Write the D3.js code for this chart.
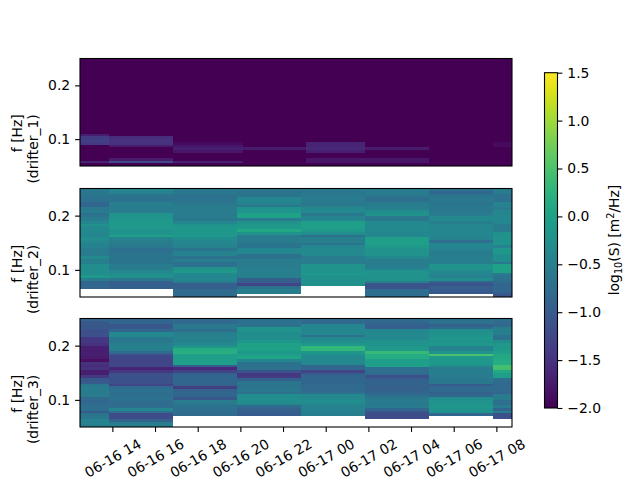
<!DOCTYPE html>
<html><head><meta charset="utf-8">
<script src="https://cdnjs.cloudflare.com/ajax/libs/d3/7.8.5/d3.min.js"></script>
<style>
html,body{margin:0;padding:0;background:#fff}
svg{display:block}
text{font-family:"DejaVu Sans",sans-serif;font-size:13.9px;fill:#000}
</style></head><body>
<svg id="c" width="640" height="480"></svg>
<script>
const xTickTimes = ["2023-06-16T14:00","2023-06-16T16:00","2023-06-16T18:00","2023-06-16T20:00","2023-06-16T22:00","2023-06-17T00:00","2023-06-17T02:00","2023-06-17T04:00","2023-06-17T06:00","2023-06-17T08:00"];
const xTickLabels = ["06-16 14","06-16 16","06-16 18","06-16 20","06-16 22","06-17 00","06-17 02","06-17 04","06-17 06","06-17 08"];
const timeStart = "2023-06-16T12:29", timeEnd = "2023-06-17T08:44";
const edges1 = ["2023-06-16T12:29","2023-06-16T13:51","2023-06-16T16:51","2023-06-16T20:07","2023-06-16T23:05","2023-06-17T01:51","2023-06-17T04:51","2023-06-17T07:51","2023-06-17T08:44"];
const edges2 = ["2023-06-16T12:29","2023-06-16T13:51","2023-06-16T16:51","2023-06-16T19:51","2023-06-16T22:51","2023-06-17T01:51","2023-06-17T04:51","2023-06-17T07:51","2023-06-17T08:44"];
const edges3 = edges2;
const freqTop = 0.25, freqBottom = 0.05, freqStep = 0.005;
const yTicks = [0.1, 0.2];
const cbarTicks = [-2,-1.5,-1,-0.5,0,0.5,1,1.5];
const n = null;

// log10(S), one array per time column, each from the highest frequency bin to the lowest
const drifter1 = [
[-2.5,-2.5,-2.5,-2.5,-2.5,-2.5,-2.5,-2.5,-2.5,-2.5,-2.5,-2.5,-2.5,-2.5,-2.5,-2.5,-2.5,-2.5,-2.5,-2.5,-2.5,-2.5,-2.5,-2.5,-2.5,-2.5,-2.5,-2.5,-1.7,-1.4,-1.35,-1.4,-2.5,-2.5,-2.5,-2.5,-2.5,-2.5,-1.65,-2.5],
[-2.5,-2.5,-2.5,-2.5,-2.5,-2.5,-2.5,-2.5,-2.5,-2.5,-2.5,-2.5,-2.5,-2.5,-2.5,-2.5,-2.5,-2.5,-2.5,-2.5,-2.5,-2.5,-2.5,-2.5,-2.5,-2.5,-2.5,-2.5,-2.5,-1.55,-1.5,-1.5,-1.75,-2.5,-2.5,-2.5,-2.5,-1.75,-1.2,-2.5],
[-2.5,-2.5,-2.5,-2.5,-2.5,-2.5,-2.5,-2.5,-2.5,-2.5,-2.5,-2.5,-2.5,-2.5,-2.5,-2.5,-2.5,-2.5,-2.5,-2.5,-2.5,-2.5,-2.5,-2.5,-2.5,-2.5,-2.5,-2.5,-2.5,-2.5,-2.5,-1.9,-1.8,-1.7,-1.8,-2.5,-2.5,-2.5,-1.7,-2.5],
[-2.5,-2.5,-2.5,-2.5,-2.5,-2.5,-2.5,-2.5,-2.5,-2.5,-2.5,-2.5,-2.5,-2.5,-2.5,-2.5,-2.5,-2.5,-2.5,-2.5,-2.5,-2.5,-2.5,-2.5,-2.5,-2.5,-2.5,-2.5,-2.5,-2.5,-2.5,-2.5,-2.5,-1.75,-2.5,-2.5,-2.5,-2.5,-2.5,-2.5],
[-2.5,-2.5,-2.5,-2.5,-2.5,-2.5,-2.5,-2.5,-2.5,-2.5,-2.5,-2.5,-2.5,-2.5,-2.5,-2.5,-2.5,-2.5,-2.5,-2.5,-2.5,-2.5,-2.5,-2.5,-2.5,-2.5,-2.5,-2.5,-2.5,-2.5,-2.5,-1.65,-1.65,-1.6,-1.7,-2.5,-2.5,-1.8,-1.8,-2.5],
[-2.5,-2.5,-2.5,-2.5,-2.5,-2.5,-2.5,-2.5,-2.5,-2.5,-2.5,-2.5,-2.5,-2.5,-2.5,-2.5,-2.5,-2.5,-2.5,-2.5,-2.5,-2.5,-2.5,-2.5,-2.5,-2.5,-2.5,-2.5,-2.5,-2.5,-2.5,-2.5,-2.5,-1.75,-2.5,-2.5,-2.5,-1.8,-1.8,-2.5],
[-2.5,-2.5,-2.5,-2.5,-2.5,-2.5,-2.5,-2.5,-2.5,-2.5,-2.5,-2.5,-2.5,-2.5,-2.5,-2.5,-2.5,-2.5,-2.5,-2.5,-2.5,-2.5,-2.5,-2.5,-2.5,-2.5,-2.5,-2.5,-2.5,-2.5,-2.5,-2.5,-2.5,-2.5,-2.5,-2.5,-2.5,-2.5,-2.5,-2.5],
[-2.5,-2.5,-2.5,-2.5,-2.5,-2.5,-2.5,-2.5,-2.5,-2.5,-2.5,-2.5,-2.5,-2.5,-2.5,-2.5,-2.5,-2.5,-2.5,-2.5,-2.5,-2.5,-2.5,-2.5,-2.5,-2.5,-2.5,-2.5,-2.5,-2.5,-2.5,-1.9,-1.9,-2.5,-2.5,-2.5,-2.5,-2.5,-2.5,-2.5]
];
const drifter2 = [
[-0.6,-0.6,-0.65,-0.7,-0.7,-0.85,-0.85,-0.6,-0.55,-0.7,-0.6,-0.55,-0.4,-0.25,-0.35,-0.35,-0.4,-0.4,-0.3,-0.35,-0.45,-0.45,-0.55,-0.55,-0.55,-0.35,-0.5,-0.5,-0.3,-0.3,-0.3,-0.3,-0.1,-0.55,-0.85,-0.85,-0.85,n,n,n],
[-0.35,-0.45,-0.65,-0.7,-0.7,-0.5,-0.5,-0.55,-0.55,-0.2,-0.2,-0.15,-0.1,-0.1,-0.1,-0.2,-0.2,0,-0.45,-0.5,-0.55,-0.6,-0.75,-0.7,-0.65,-0.65,-0.65,-0.65,-0.55,-0.55,-0.35,-0.3,-0.25,-0.6,-0.95,-0.95,-0.95,n,n,n],
[-0.6,-0.6,-0.7,-0.7,-0.7,-0.6,-0.55,-0.55,-0.55,-0.55,-0.55,-0.6,-0.4,-0.2,-0.15,-0.15,-0.15,-0.15,-0.3,-0.4,-0.4,-0.45,-0.65,-0.45,-0.45,-0.7,-0.5,-0.75,-0.7,-0.25,-0.1,-0.35,-0.4,-0.4,-0.55,-0.95,-0.95,-0.8,-0.8,-0.8],
[-0.65,-0.65,-0.65,-0.4,-0.4,-0.45,-0.6,-0.2,-0.2,0,0,-0.55,-0.25,-0.15,-0.1,0.1,-0.2,-0.55,-0.55,-0.55,-0.65,-0.65,-0.4,-0.4,-0.7,-0.7,-0.55,-0.55,-0.55,-0.5,-0.5,-0.5,-0.5,-0.95,-0.95,-1.3,-0.7,-0.5,-0.55,n],
[-0.6,-0.6,-0.6,-0.55,-0.55,-0.6,-0.55,-0.35,-0.35,-0.6,-0.45,-0.4,-0.05,-0.05,-0.05,-0.1,-0.3,-0.7,-0.5,-0.5,-0.65,-0.4,-0.35,-0.35,-0.4,-0.55,-0.55,-0.55,-0.2,-0.2,-0.2,-0.15,-0.25,-0.25,-0.25,-0.25,n,n,n,n],
[-0.55,-0.55,-0.6,-0.75,-0.75,-0.55,-0.55,-0.5,-0.3,-0.25,-0.6,-0.6,-0.35,-0.35,-0.35,-0.35,-0.4,-0.4,-0.05,-0.05,-0.05,-0.1,-0.2,-0.2,-0.25,-0.35,-0.55,-0.55,-0.55,-0.45,-0.2,-0.2,-0.2,-0.25,-0.5,-1.1,-1.1,-0.75,-0.75,-0.75],
[-0.7,-0.85,-0.65,-0.6,-0.6,-0.65,-0.6,-0.6,-0.6,-0.55,-0.35,-0.35,-0.5,-0.4,-0.4,-0.4,-0.4,-0.4,-0.45,-0.75,-0.4,-0.4,-0.45,-0.55,-0.55,-0.5,-0.5,-0.5,-0.2,-0.2,-0.35,-0.4,-0.45,-0.3,-0.9,-1.1,-0.95,-1.0,-1.05,n],
[-0.55,-0.55,-0.7,-0.7,-0.7,-0.45,-0.45,-0.55,-0.4,-0.4,-0.4,-0.4,-0.4,-0.55,-0.55,-0.55,-0.25,-0.25,-0.2,-0.2,-0.2,-0.45,-0.15,-0.15,-0.3,-0.3,-0.3,-0.6,0,0,0,-0.55,-0.65,-0.7,-0.8,-0.85,-0.85,-0.85,-0.95,-1.1]
];
const drifter3 = [
[-0.85,-1.05,-1.05,-1.05,-1.15,-1.15,-1.15,-1.45,-1.45,-1.5,-1.7,-1.7,-1.7,-1.7,-1.75,-1.85,-1.5,-1.55,-1.5,-1.7,-1.7,-1.4,-1.05,-1.0,-0.6,-0.55,-0.55,-0.55,-0.55,-0.8,-0.85,-0.8,-0.75,-0.75,-1.0,-0.65,-0.6,-0.45,-0.45,-0.5],
[-0.85,-0.85,-1.05,-1.05,-0.85,-0.35,-0.35,-0.6,-0.6,-0.5,-0.45,-0.5,-0.8,-1.2,-1.25,-1.3,-1.3,-1.25,-1.65,-1.45,-1.15,-1.1,-1.15,-1.15,-1.3,-0.8,-0.7,-0.75,-0.75,-0.7,-0.75,-0.8,-0.75,-0.4,-0.75,-1.2,-1.2,-0.9,-0.55,-0.5],
[-0.8,-0.8,-0.6,-0.6,-0.75,-0.5,-0.45,-0.45,-0.45,-0.35,-0.15,0.15,0.2,-0.05,-0.05,-0.05,-0.05,-1.0,-1.6,-1.3,-0.9,-0.85,-0.85,-0.85,-0.9,-1.35,-0.9,-0.85,-0.85,-1.05,-0.55,-0.6,-0.7,-0.75,-0.75,-0.8,n,n,n,n],
[-0.7,-0.7,-0.7,-0.2,-0.2,-0.3,-0.3,-0.3,-0.15,0,0,0,-0.1,-0.05,0.05,-0.4,-0.7,-0.7,-0.7,-1.1,-1.45,-1.4,-0.95,-0.65,-0.65,-0.65,-0.6,-0.7,-0.3,-0.3,-0.3,-0.35,-0.8,-0.9,-0.95,-1.0,n,n,n,n],
[-0.8,-0.8,-0.4,-0.4,-0.4,-0.4,-0.7,-0.35,-0.3,-0.15,0.3,0.3,-0.15,-0.3,-0.35,-0.35,-0.35,-0.85,-0.85,-1.3,-1.0,-0.85,-0.85,-0.85,-0.8,-0.8,-0.8,-0.75,-0.35,-0.35,-0.3,-0.35,-0.45,-0.45,-0.5,-0.5,n,n,n,n],
[-0.8,-0.85,-0.95,-0.95,-0.4,-0.35,-0.35,-0.35,-0.25,-0.2,-0.15,-0.1,0.35,0.15,0.15,-0.05,-0.05,-0.05,-0.75,-0.75,-0.8,-1.15,-0.95,-0.9,-0.9,-0.95,-0.9,-0.85,-0.75,-0.6,-0.55,-0.6,-0.55,-0.85,-1.1,-1.2,-1.2,n,n,n],
[-0.7,-0.7,-0.9,-0.8,-0.3,-0.25,-0.2,-0.15,-0.2,-0.15,-0.45,-0.45,-0.2,0.5,-0.1,-0.15,-0.15,-0.3,-0.55,-0.5,-0.55,-0.55,-0.6,-0.6,-1.0,-0.8,-0.8,-0.9,-0.85,-0.3,-0.2,-0.2,-0.15,-0.2,-0.2,-0.85,n,n,n,n],
[-0.7,-0.8,-0.8,-0.5,-0.5,-0.5,-0.7,-0.7,-0.3,-0.15,-0.15,-0.1,-0.05,0.1,0.1,0.15,0.15,0.45,0.45,0.1,-0.05,-0.05,-0.75,-0.8,-0.8,-0.8,-0.8,-0.85,-0.55,-0.55,-0.75,-0.75,-0.55,-0.85,-0.5,-1.15,-1.15,n,n,n]
];

const svg = d3.select("#c");
const parse = d3.isoParse;
const x = d3.scaleTime().domain([parse(timeStart), parse(timeEnd)]).range([80, 512]);
const color = d3.scaleSequential(d3.interpolateViridis).domain([-2, 1.5]).clamp(true);

const panels = [
  {name:"drifter_1", data:drifter1, edges:edges1, top:58.5, bottom:166},
  {name:"drifter_2", data:drifter2, edges:edges2, top:188.5, bottom:297},
  {name:"drifter_3", data:drifter3, edges:edges3, top:318.5, bottom:427}
];

panels.forEach((p, pi) => {
  const y = d3.scaleLinear().domain([freqBottom, freqTop]).range([p.bottom, p.top]);
  const g = svg.append("g");
  p.data.forEach((col, ci) => {
    const x0 = x(parse(p.edges[ci])), x1 = x(parse(p.edges[ci+1]));
    col.forEach((v, ri) => {
      if (v === null) return;
      const yA = y(freqTop - ri*freqStep), yB = y(freqTop - (ri+1)*freqStep);
      g.append("rect").attr("x", x0).attr("width", x1-x0)
        .attr("y", yA).attr("height", yB-yA)
        .attr("fill", color(v)).attr("shape-rendering","crispEdges");
    });
  });
  g.append("rect").attr("x",80).attr("y",p.top).attr("width",432).attr("height",p.bottom-p.top)
    .attr("fill","none").attr("stroke","#000").attr("stroke-width",1.1);

  const ya = svg.append("g").attr("transform","translate(80,0)")
    .call(d3.axisLeft(y).tickValues(yTicks).tickFormat(d3.format(".1f")).tickSize(4.9).tickPadding(4.9));
  ya.select(".domain").remove();
  ya.selectAll("line").attr("stroke","#000").attr("stroke-width",1.1);
  ya.selectAll("text").style("font-size","13.9px").style("font-family","DejaVu Sans");

  const cy = (p.top+p.bottom)/2 + 2;
  const lab = svg.append("text").attr("transform",`translate(22,${cy}) rotate(-90)`).attr("text-anchor","end");
  lab.append("tspan").attr("x",0).attr("y",0).text("f [Hz]");
  lab.append("tspan").attr("x",0).attr("y",16).text(`(${p.name})`);

  if (pi === 2) {
    const xa = svg.append("g").attr("transform",`translate(0,${p.bottom})`)
      .call(d3.axisBottom(x).tickValues(xTickTimes.map(parse)).tickFormat((d,i)=>xTickLabels[i]).tickSize(4.9));
    xa.select(".domain").remove();
    xa.selectAll("line").attr("stroke","#000").attr("stroke-width",1.1);
    xa.selectAll("text").style("font-size","13.9px").style("font-family","DejaVu Sans")
      .attr("y",0).attr("dy",0).attr("text-anchor","middle").attr("dominant-baseline","central")
      .attr("transform","translate(0,31) rotate(-30)");
  }
});

// colourbar
const cbTop = 72.7, cbBottom = 408, cbLeft = 544.5, cbRight = 557.5;
const cy = d3.scaleLinear().domain([-2,1.5]).range([cbBottom, cbTop]);
const defs = svg.append("defs");
const grad = defs.append("linearGradient").attr("id","vir").attr("x1",0).attr("x2",0).attr("y1",1).attr("y2",0);
d3.range(0,1.0001,0.05).forEach(t => grad.append("stop").attr("offset",t).attr("stop-color",d3.interpolateViridis(t)));
svg.append("rect").attr("x",cbLeft).attr("y",cbTop).attr("width",cbRight-cbLeft).attr("height",cbBottom-cbTop)
  .attr("fill","url(#vir)").attr("stroke","#000").attr("stroke-width",1.1);
const ca = svg.append("g").attr("transform",`translate(${cbRight},0)`)
  .call(d3.axisRight(cy).tickValues(cbarTicks).tickFormat(d=>d3.format(".1f")(d).replace("-","\u2212")).tickSize(4.9).tickPadding(4.9));
ca.select(".domain").remove();
ca.selectAll("line").attr("stroke","#000").attr("stroke-width",1.1);
ca.selectAll("text").style("font-size","13.9px").style("font-family","DejaVu Sans");

const cl = svg.append("text").attr("transform","translate(619,240) rotate(-90)").attr("text-anchor","middle");
cl.append("tspan").text("log");
cl.append("tspan").attr("dy",3).style("font-size","9.7px").text("10");
cl.append("tspan").attr("dy",-3).text("(S) [m");
cl.append("tspan").attr("dy",-5).style("font-size","9.7px").text("2");
cl.append("tspan").attr("dy",5).text("/Hz]");
</script>
</body></html>
